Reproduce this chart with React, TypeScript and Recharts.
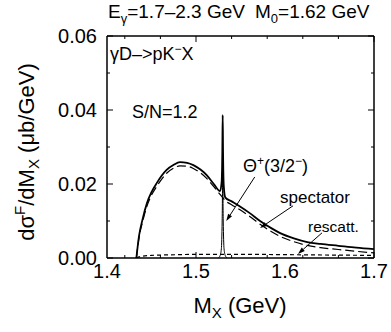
import React from "react";
import { LineChart, Line, XAxis, YAxis, ReferenceLine } from "recharts";

// full result (spectator + rescattering + Theta peak)
const totalX = [1.433, 1.436, 1.44, 1.445, 1.45, 1.456, 1.467, 1.475, 1.482, 1.49, 1.497, 1.505, 1.512, 1.52, 1.527, 1.5288, 1.5296, 1.53, 1.5304, 1.5312, 1.533, 1.54, 1.549, 1.56, 1.572, 1.585, 1.594, 1.61, 1.625, 1.64, 1.66, 1.68, 1.7];
const totalY = [0, 0.006, 0.0105, 0.0149, 0.0178, 0.0203, 0.0238, 0.0252, 0.0259, 0.0257, 0.0251, 0.0239, 0.0224, 0.02, 0.0181, 0.0205, 0.029, 0.0386, 0.0285, 0.0195, 0.0163, 0.0153, 0.014, 0.0122, 0.01, 0.008, 0.0068, 0.0053, 0.0043, 0.0038, 0.0033, 0.0028, 0.0024];

// spectator only
const specX = [1.433, 1.436, 1.44, 1.445, 1.45, 1.456, 1.467, 1.475, 1.482, 1.49, 1.497, 1.505, 1.512, 1.52, 1.527, 1.533, 1.54, 1.549, 1.56, 1.572, 1.585, 1.594, 1.61, 1.625, 1.64, 1.66, 1.68, 1.7];
const specY = [0, 0.0055, 0.0098, 0.0141, 0.017, 0.0194, 0.0229, 0.0243, 0.0249, 0.0248, 0.0242, 0.023, 0.0215, 0.0193, 0.0172, 0.0155, 0.0144, 0.0131, 0.0113, 0.0091, 0.0071, 0.0059, 0.0044, 0.0034, 0.0028, 0.0023, 0.0018, 0.0014];

// rescattering
const rescX = [1.433, 1.436, 1.44, 1.45, 1.46, 1.48, 1.5, 1.55, 1.6, 1.65, 1.7];
const rescY = [0, 0.0003, 0.0005, 0.0007, 0.0008, 0.0009, 0.001, 0.001, 0.0009, 0.0008, 0.0007];

// Theta+(3/2-) alone
const thetaX = [1.525, 1.527, 1.5285, 1.5294, 1.53, 1.5306, 1.5315, 1.533, 1.535];
const thetaY = [0, 0.0006, 0.0025, 0.01, 0.021, 0.01, 0.0025, 0.0006, 0];

const xMajor = [1.4, 1.5, 1.6, 1.7];
const xAll = [1.4, 1.42, 1.44, 1.46, 1.48, 1.5, 1.52, 1.54, 1.56, 1.58, 1.6, 1.62, 1.64, 1.66, 1.68, 1.7];
const yMajor = [0, 0.02, 0.04, 0.06];
const yAll = [0, 0.01, 0.02, 0.03, 0.04, 0.05, 0.06];

// annotation arrows: [label end, tip] in data units
const arrows = [
  [[1.566, 0.0219], [1.534, 0.01]],
  [[1.609, 0.0141], [1.572, 0.0081]],
  [[1.6416, 0.0068], [1.6146, 0.0011]],
];

const zip = (xs: number[], ys: number[]) => xs.map((x, i) => ({ x, y: ys[i] }));

const FONT = '"Liberation Sans", Arial, Helvetica, sans-serif';
const isMajorX = (v: number) => Math.abs(v * 10 - Math.round(v * 10)) < 1e-6;
const isMajorY = (v: number) => Math.abs(v * 50 - Math.round(v * 50)) < 1e-6;

// inward tick marks drawn by hand: long for major, short for minor
const tickIn = (dx: number, dy: number, major: (v: number) => boolean) => (p: any) => {
  const len = major(p.payload.value) ? 6 : 3;
  return <line x1={p.x} y1={p.y} x2={p.x + dx * len} y2={p.y + dy * len} stroke="#000" strokeWidth={1} />;
};

function Arrow(props: any) {
  const { x1, y1, x2, y2 } = props;
  const a = Math.atan2(y2 - y1, x2 - x1);
  const L = 7;
  const W = 2.3;
  const bx = x2 - L * Math.cos(a);
  const by = y2 - L * Math.sin(a);
  const pts = `${x2},${y2} ${bx + W * Math.sin(a)},${by - W * Math.cos(a)} ${bx - W * Math.sin(a)},${by + W * Math.cos(a)}`;
  return (
    <g>
      <line x1={x1} y1={y1} x2={bx} y2={by} stroke="#000" strokeWidth={1} />
      <polygon points={pts} fill="#000" />
    </g>
  );
}

export default function App() {
  const tickFont = { fontSize: 20, fill: "#000", fontFamily: FONT };
  const frame = { stroke: "#000", strokeWidth: 1.5 };
  return (
    <div style={{ position: "absolute", left: 0, top: 0, width: 391, height: 332, background: "#fff", fontFamily: FONT }}>
      <LineChart width={391} height={332} margin={{ top: 36, right: 17, bottom: 44, left: 47 }}>
        <XAxis xAxisId="b" type="number" dataKey="x" domain={[1.4, 1.7]} ticks={xMajor} allowDataOverflow
          height={30} tickLine={false} tickSize={4} tickMargin={2} tick={tickFont}
          tickFormatter={(v: number) => v.toFixed(1)} axisLine={frame} />
        <XAxis xAxisId="bi" type="number" dataKey="x" domain={[1.4, 1.7]} ticks={xAll} allowDataOverflow
          mirror height={1} tickSize={0} tickMargin={0} tickLine={false} axisLine={false} tick={tickIn(0, -1, isMajorX)} />
        <XAxis xAxisId="ti" orientation="top" type="number" dataKey="x" domain={[1.4, 1.7]} ticks={xAll} allowDataOverflow
          mirror height={1} tickSize={0} tickMargin={0} tickLine={false} axisLine={frame} tick={tickIn(0, 1, isMajorX)} />

        <YAxis yAxisId="l" type="number" domain={[0, 0.06]} ticks={yMajor} allowDataOverflow
          width={60} tickLine={false} tickSize={6} tickMargin={4} tick={tickFont}
          tickFormatter={(v: number) => v.toFixed(2)} axisLine={frame} />
        <YAxis yAxisId="li" type="number" domain={[0, 0.06]} ticks={yAll} allowDataOverflow
          mirror width={1} tickSize={0} tickMargin={0} tickLine={false} axisLine={false} tick={tickIn(1, 0, isMajorY)} />
        <YAxis yAxisId="ri" orientation="right" type="number" domain={[0, 0.06]} ticks={yAll} allowDataOverflow
          mirror width={1} tickSize={0} tickMargin={0} tickLine={false} axisLine={frame} tick={tickIn(-1, 0, isMajorY)} />

        <Line xAxisId="b" yAxisId="l" data={zip(rescX, rescY)} dataKey="y" type="monotone" dot={false}
          stroke="#000" strokeWidth={1.2} strokeDasharray="4 3" isAnimationActive={false} />
        <Line xAxisId="b" yAxisId="l" data={zip(thetaX, thetaY)} dataKey="y" type="monotone" dot={false}
          stroke="#000" strokeWidth={1} strokeLinejoin="round" isAnimationActive={false} />
        <Line xAxisId="b" yAxisId="l" data={zip(specX, specY)} dataKey="y" type="monotone" dot={false}
          stroke="#000" strokeWidth={1.2} strokeDasharray="9 4" isAnimationActive={false} />
        <Line xAxisId="b" yAxisId="l" data={zip(totalX, totalY)} dataKey="y" type="monotone" dot={false}
          stroke="#000" strokeWidth={1.8} strokeLinejoin="round" isAnimationActive={false} />

        {arrows.map(([from, to], i) => (
          <ReferenceLine key={i} xAxisId="b" yAxisId="l" ifOverflow="visible"
            segment={[{ x: from[0], y: from[1] }, { x: to[0], y: to[1] }]} shape={Arrow} />
        ))}
      </LineChart>

      <svg width={391} height={332} style={{ position: "absolute", left: 0, top: 0, pointerEvents: "none" }}
        fontFamily={FONT} fill="#000">
        <text x={108} y={18} fontSize={19}>E<tspan fontSize={13} dy={5}>γ</tspan><tspan dy={-5}>=1.7–2.3 GeV</tspan></text>
        <text x={255} y={18} fontSize={19}>M<tspan fontSize={13} dy={5}>0</tspan><tspan dy={-5}>=1.62 GeV</tspan></text>

        <text x={110} y={60} fontSize={18}>γD–&gt;pK<tspan fontSize={12} dy={-7}>−</tspan><tspan dy={7}>X</tspan></text>
        <text x={132} y={118} fontSize={18}>S/N=1.2</text>
        <text x={243} y={172} fontSize={18}>Θ<tspan fontSize={12} dy={-7}>+</tspan><tspan dy={7}>(3/2</tspan><tspan fontSize={12} dy={-7}>−</tspan><tspan dy={7}>)</tspan></text>
        <text x={280} y={203} fontSize={17}>spectator</text>
        <text x={308} y={232} fontSize={15.5}>rescatt.</text>

        <text x={240} y={313} fontSize={22} textAnchor="middle">M<tspan fontSize={15} dy={5}>X</tspan><tspan dy={-5}> (GeV)</tspan></text>
        <text transform="translate(34,152) rotate(-90)" fontSize={22} textAnchor="middle">dσ<tspan fontSize={15} dy={-9}>F</tspan><tspan dy={9}>/dM</tspan><tspan fontSize={15} dy={5}>X</tspan><tspan dy={-5}> (μb/GeV)</tspan></text>
      </svg>
    </div>
  );
}
